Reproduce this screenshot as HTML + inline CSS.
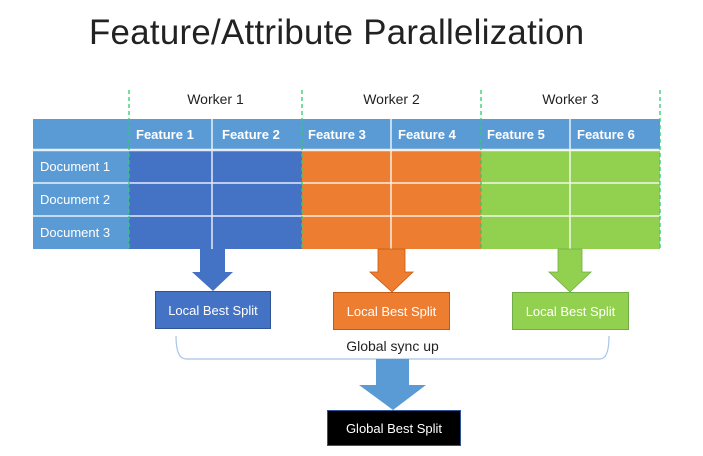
<!DOCTYPE html>
<html><head><style>
body{margin:0;width:703px;height:456px;background:#fff;position:relative;overflow:hidden;font-family:"Liberation Sans","DejaVu Sans",sans-serif}
.a{position:absolute}
.t{position:absolute;color:#fff;font-size:13px;display:flex;align-items:center;box-sizing:border-box}
.c{justify-content:center}
</style></head><body>
<div class="a" style="left:89px;top:13px;font-size:34.8px;color:#222;letter-spacing:0.3px">Feature/Attribute Parallelization</div>
<svg class="a" style="left:0;top:0" width="703" height="456">
<rect x="33" y="119" width="627" height="31" fill="#5b9bd5"/>
<rect x="33" y="150" width="96" height="99" fill="#5b9bd5"/>
<rect x="129" y="150" width="173" height="99" fill="#4472c4"/>
<rect x="302" y="150" width="179" height="99" fill="#ed7d31"/>
<rect x="481" y="150" width="179" height="99" fill="#92d050"/>
<g stroke="#fff" stroke-width="1.5" opacity="0.85">
<line x1="33" y1="150" x2="660" y2="150" stroke-width="2.5"/>
<line x1="33" y1="183" x2="660" y2="183"/>
<line x1="33" y1="216" x2="660" y2="216"/>
<line x1="212" y1="119" x2="212" y2="249"/>
<line x1="391" y1="119" x2="391" y2="249"/>
<line x1="570" y1="119" x2="570" y2="249"/>
</g>
<g stroke="#2ecc71" stroke-width="1.3" stroke-dasharray="4,3">
<line x1="129" y1="90" x2="129" y2="249"/>
<line x1="302" y1="90" x2="302" y2="249"/>
<line x1="481" y1="90" x2="481" y2="249"/>
<line x1="660" y1="90" x2="660" y2="249"/>
</g>
<polygon points="200,249 225,249 225,272 233,272 213,291 192,272 200,272" fill="#4472c4"/>
<polygon points="378,249 405,249 405,272 413,272 392,292 370,272 378,272" fill="#ed7d31" stroke="#c55a11" stroke-width="0.8"/>
<polygon points="558,249 582,249 582,272 591,272 570,292 549,272 558,272" fill="#92d050" stroke="#70ad47" stroke-width="0.8"/>
<path d="M176,336 Q176,359 186,359 L600,359 Q609,359 609,336" fill="none" stroke="#a9c4e6" stroke-width="1.2"/>
<polygon points="376,359 409,359 409,385 426,385 393,410 359,385 376,385" fill="#5b9bd5"/>
</svg>
<div class="a" style="left:129px;top:91px;width:173px;text-align:center;font-size:14px;color:#222">Worker 1</div>
<div class="a" style="left:302px;top:91px;width:179px;text-align:center;font-size:14px;color:#222">Worker 2</div>
<div class="a" style="left:481px;top:91px;width:179px;text-align:center;font-size:14px;color:#222">Worker 3</div>
<div class="t" style="left:136px;top:119px;height:31px;font-weight:bold">Feature 1</div>
<div class="t" style="left:222px;top:119px;height:31px;font-weight:bold">Feature 2</div>
<div class="t" style="left:308px;top:119px;height:31px;font-weight:bold">Feature 3</div>
<div class="t" style="left:398px;top:119px;height:31px;font-weight:bold">Feature 4</div>
<div class="t" style="left:487px;top:119px;height:31px;font-weight:bold">Feature 5</div>
<div class="t" style="left:577px;top:119px;height:31px;font-weight:bold">Feature 6</div>
<div class="t" style="left:40px;top:150px;height:33px">Document 1</div>
<div class="t" style="left:40px;top:183px;height:33px">Document 2</div>
<div class="t" style="left:40px;top:216px;height:33px">Document 3</div>
<div class="t c" style="left:155px;top:291px;width:116px;height:38px;background:#4472c4;border:1px solid #2f5597">Local Best Split</div>
<div class="t c" style="left:333px;top:292px;width:117px;height:38px;background:#ed7d31;border:1px solid #c55a11">Local Best Split</div>
<div class="t c" style="left:512px;top:292px;width:117px;height:38px;background:#92d050;border:1px solid #70ad47">Local Best Split</div>
<div class="a" style="left:300px;top:338px;width:185px;text-align:center;font-size:14px;color:#222">Global sync up</div>
<div class="t c" style="left:327px;top:410px;width:134px;height:36px;background:#000;border:1px solid #2f5597">Global Best Split</div>
</body></html>
